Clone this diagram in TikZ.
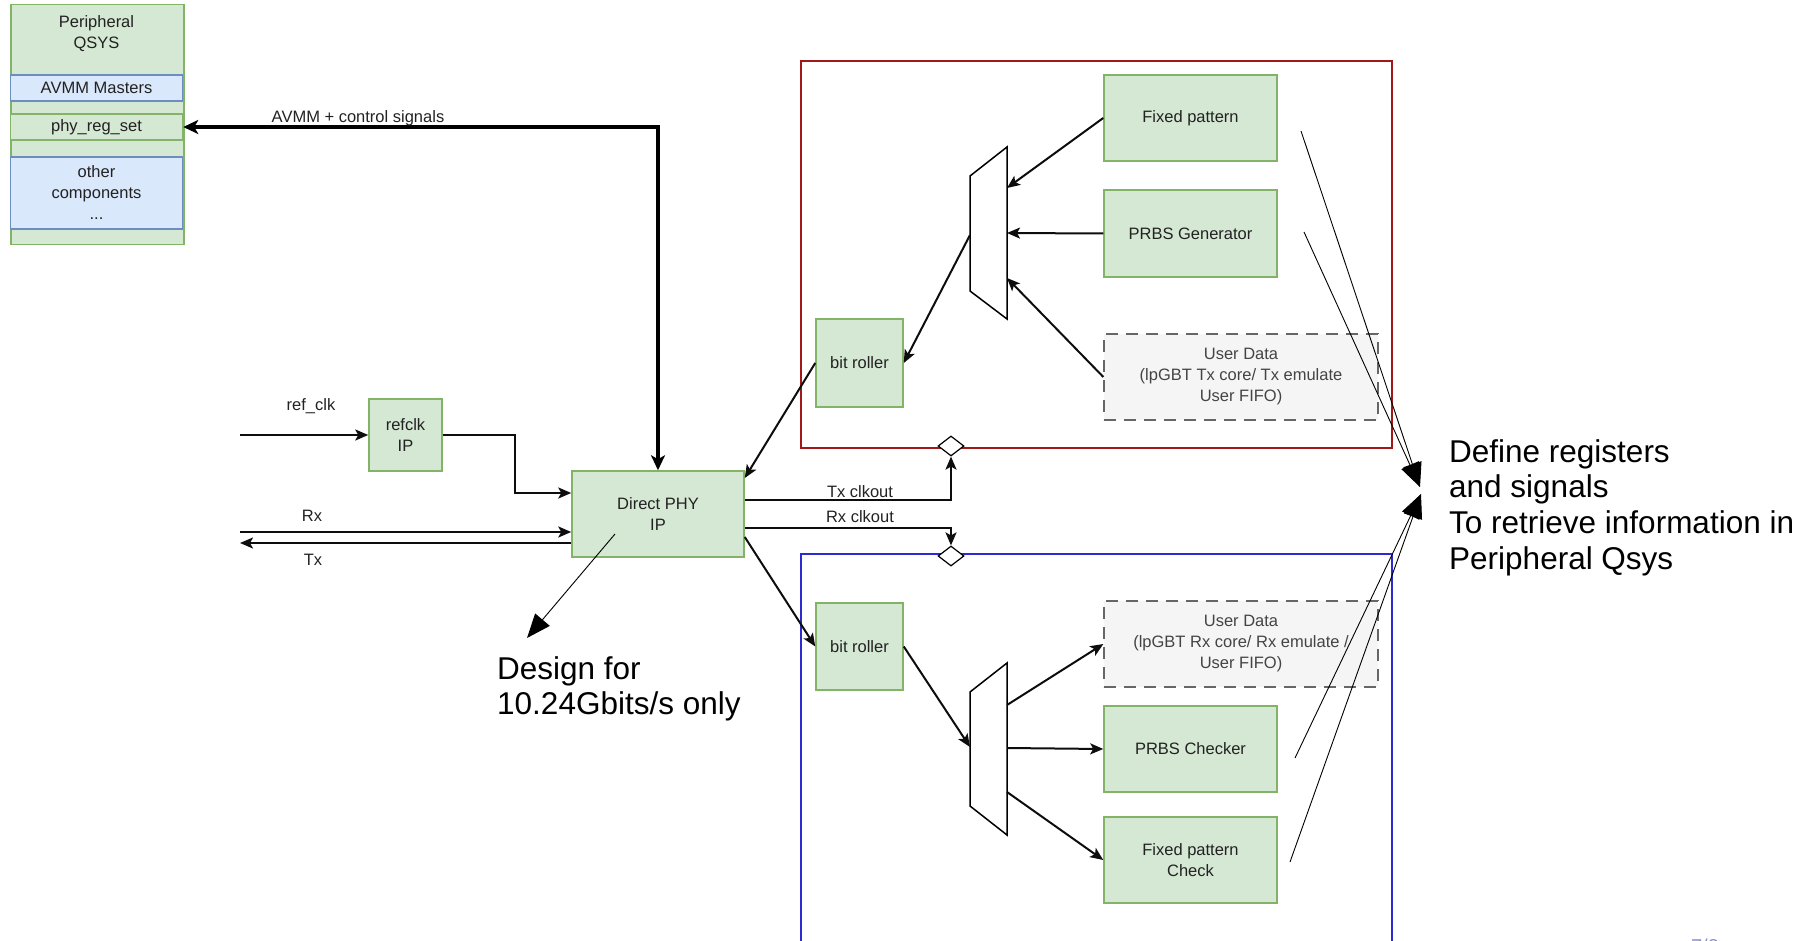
\documentclass[tikz,border=0pt]{standalone}
\usepackage{fontspec}
\setmainfont{Liberation Sans}
\usetikzlibrary{arrows.meta,shapes.geometric,calc}
\definecolor{gfill}{HTML}{D5E8D4}
\definecolor{gline}{HTML}{82B366}
\definecolor{bfill}{HTML}{DAE8FC}
\definecolor{bline}{HTML}{6C8EBF}
\definecolor{ufill}{HTML}{F5F5F5}
\definecolor{uline}{HTML}{666666}
\definecolor{utext}{HTML}{444444}
\definecolor{txt}{HTML}{222222}
\definecolor{redbox}{HTML}{A01818}
\definecolor{bluebox}{HTML}{2B2BD0}
\definecolor{pagenum}{HTML}{8C8CC8}
\newcommand\smalltxt{\fontsize{16.5}{21}\selectfont}
\newcommand\bigtxt{\fontsize{31.5}{35.7}\selectfont}
\begin{document}
\begin{tikzpicture}[x=1pt,y=-1pt,
  gbox/.style={draw=gline, fill=gfill, line width=1.5pt, font=\smalltxt, text=txt, align=center, inner sep=0pt},
  bbox/.style={draw=bline, fill=bfill, line width=1.5pt, font=\smalltxt, text=txt, align=center, inner sep=0pt},
  ubox/.style={draw=uline, fill=ufill, line width=1.3pt, dash pattern=on 12pt off 8pt, font=\smalltxt, text=utext, align=center, inner sep=0pt},
  conn/.style={draw=black!95, line width=2pt, -{Stealth[length=13pt,width=11pt,inset=3pt]}},
  avmmline/.style={draw=black, line width=3.3pt, {Stealth[length=15pt,width=14pt,inset=4pt]}-{Stealth[length=15pt,width=14pt,inset=4pt]}},
  noteline/.style={draw=black, line width=0.9pt},
  lbl/.style={font=\smalltxt, text=txt, inner sep=0pt},
  bigarrow/.style={noteline, -{Triangle[length=24pt,width=19pt]}},
  clk/.style={diamond, draw=black, fill=white, line width=1.2pt, minimum width=26pt, minimum height=20pt, inner sep=0pt},
  muxshape/.style={draw=black, fill=white, line width=1.5pt}
]
\useasboundingbox (0,0) rectangle (1810,941);
\clip (0,0) rectangle (1810,941);

% containers
\node[draw=redbox, line width=1.5pt, minimum width=591pt, minimum height=387pt, inner sep=0pt] (txbox) at (1096.5,254.5) {};
\node[draw=bluebox, line width=1.5pt, minimum width=591pt, minimum height=426pt, inner sep=0pt] (rxbox) at (1096.5,767) {};

% Peripheral QSYS
\node[gbox, minimum width=173pt, minimum height=240pt, anchor=north west] (qsys) at (10,4) {};
\node[lbl, align=center] (qsystitle) at (96.5,34) {Peripheral\\QSYS};
\node[bbox, minimum width=172pt, minimum height=26pt] (avmm) at (96.5,88) {AVMM Masters};
\node[gbox, minimum width=172pt, minimum height=26pt] (phyreg) at (96.5,127) {phy\_reg\_set};
\node[bbox, minimum width=172pt, minimum height=72pt] (other) at (96.5,193) {other\\components\\...};

% main blocks
\node[gbox, minimum width=73pt, minimum height=72pt] (refclk) at (405.5,435) {refclk\\IP};
\node[gbox, minimum width=172pt, minimum height=86pt] (dphy) at (658,514) {Direct PHY\\IP};

% Tx side
\node[gbox, minimum width=87pt, minimum height=88pt] (brtx) at (859.5,363) {bit roller};
\node[gbox, minimum width=173pt, minimum height=86pt] (fixgen) at (1190.5,118) {Fixed pattern};
\node[gbox, minimum width=173pt, minimum height=87pt] (prbsgen) at (1190.5,233.5) {PRBS Generator};
\node[ubox, minimum width=274pt, minimum height=86pt] (usertx) at (1241,377) {User Data\\(lpGBT Tx core/ Tx emulate\\User FIFO)};
\draw[muxshape] (970,176) -- (1007,147) -- (1007,319) -- (970,291) -- cycle;
\coordinate (mtxL) at (970,235);
\coordinate (mtxR1) at (1007,188);
\coordinate (mtxR2) at (1007,233);
\coordinate (mtxR3) at (1007,278);

% Rx side
\node[gbox, minimum width=87pt, minimum height=87pt] (brrx) at (859.5,646.5) {bit roller};
\node[ubox, minimum width=274pt, minimum height=86pt] (userrx) at (1241,644) {User Data\\(lpGBT Rx core/ Rx emulate /\\User FIFO)};
\node[gbox, minimum width=173pt, minimum height=86pt] (prbschk) at (1190.5,749) {PRBS Checker};
\node[gbox, minimum width=173pt, minimum height=86pt] (fixchk) at (1190.5,860) {Fixed pattern\\Check};
\draw[muxshape] (970,692) -- (1007,663) -- (1007,835) -- (970,806) -- cycle;
\coordinate (mrxL) at (970,747);
\coordinate (mrxR1) at (1007,705);
\coordinate (mrxR2) at (1007,748);
\coordinate (mrxR3) at (1007,792);

% clock diamonds
\node[clk] (dtx) at (951,446) {};
\node[clk] (drx) at (951,556) {};

% free ends
\coordinate (refin) at (240,435);
\coordinate (rxin) at (240,532);
\coordinate (txout) at (240,543);

% connectors
\draw[avmmline] (phyreg.east) -| (dphy.north);
\draw[conn] (refin) -- (refclk.west);
\draw[conn] (refclk.east) -- (515,435) |- ([yshift=21pt]dphy.west);
\draw[conn] (rxin) -- ([yshift=-18pt]dphy.west);
\draw[conn] ([yshift=-29pt]dphy.west) -- (txout);
\draw[conn] ([yshift=14pt]dphy.east) -| (dtx.south);
\draw[conn] ([yshift=-14pt]dphy.east) -| (drx.north);
\draw[conn] (brtx.west) -- ([yshift=36pt]dphy.east);
\draw[conn] ([yshift=-23pt]dphy.east) -- (brrx.west);

\draw[conn] (fixgen.west) -- (mtxR1);
\draw[conn] (prbsgen.west) -- (mtxR2);
\draw[conn] (usertx.west) -- (mtxR3);
\draw[conn] (mtxL) -- (brtx.east);

\draw[conn] (brrx.east) -- (mrxL);
\draw[conn] (mrxR1) -- (userrx.west);
\draw[conn] (mrxR2) -- (prbschk.west);
\draw[conn] (mrxR3) -- (fixchk.west);

% labels
\node[lbl] (lavmm) at (358,118) {AVMM + control signals};
\node[lbl] (lref) at (311,406) {ref\_clk};
\node[lbl] (lrx) at (312,516) {Rx};
\node[lbl] (ltx) at (313,560) {Tx};
\node[lbl] (ltxclk) at (860,492) {Tx clkout};
\node[lbl] (lrxclk) at (860,517) {Rx clkout};

% annotations
\node[font=\bigtxt, text=black, align=left, anchor=north west, inner sep=0pt] (note) at (1449,439) {Define registers\\and signals\\To retrieve information in\\Peripheral Qsys};
\node[font=\bigtxt, text=black, align=left, anchor=north west, inner sep=0pt] (design) at (497,656) {Design for\\10.24Gbits/s only};

\coordinate (n1) at (1301,131);
\coordinate (n2) at (1304,232);
\coordinate (n3) at (1295,758);
\coordinate (n4) at (1290,862);
\coordinate (tipA) at (1420,487);
\coordinate (tipB) at (1421,494);
\draw[bigarrow] (n1) -- (tipA);
\draw[bigarrow] (n2) -- (tipA);
\draw[bigarrow] (n3) -- (tipB);
\draw[bigarrow] (n4) -- (tipB);

\coordinate (d0) at (615,534);
\coordinate (dtip) at (527,638);
\draw[bigarrow] (d0) -- (dtip);

\node[font=\fontsize{20}{24}\selectfont, text=pagenum, inner sep=0pt] (pg) at (1705,946) {7/8};
\end{tikzpicture}
\end{document}
